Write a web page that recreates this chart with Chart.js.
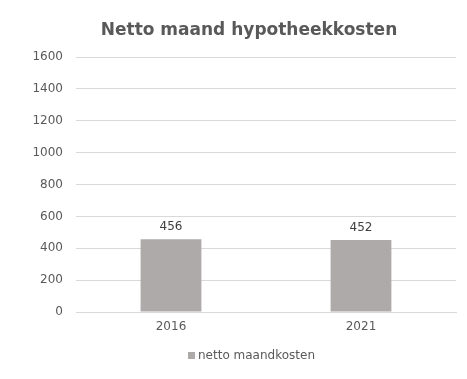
<!DOCTYPE html>
<html><head><meta charset="utf-8">
<script src="https://cdn.jsdelivr.net/npm/chart.js@4/dist/chart.umd.min.js"></script>
<style>html,body{margin:0;padding:0;background:#fff}canvas{display:block}</style>
</head><body>
<canvas id="c" width="467" height="379"></canvas>
<script>
const categories = ["2016", "2021"];
const seriesName = "netto maandkosten";
const values = [456, 452];
const titleText = "Netto maand hypotheekkosten";
const yMin = 0, yMax = 1600, yStep = 200;

const FONT = '"DejaVu Sans", Verdana, sans-serif';
const BAR_COLOR = '#AEAAAA';

const decorPlugin = {
  id: 'decor',
  afterDatasetsDraw(chart) {
    const ctx = chart.ctx;
    const meta = chart.getDatasetMeta(0);
    ctx.save();
    ctx.font = '12px ' + FONT;
    ctx.fillStyle = '#404040';
    ctx.textAlign = 'center';
    ctx.textBaseline = 'middle';
    meta.data.forEach((el, i) => {
      ctx.fillText(String(values[i]), el.x, el.y - 12);
    });
    ctx.restore();
  },
  afterDraw(chart) {
    const ctx = chart.ctx;
    ctx.save();
    ctx.font = 'bold 17px ' + FONT;
    ctx.fillStyle = '#595959';
    ctx.textAlign = 'center';
    ctx.textBaseline = 'middle';
    ctx.fillText(titleText, 249, 31);
    ctx.font = '12px ' + FONT;
    const tw = ctx.measureText(seriesName).width;
    const total = 7 + 3 + tw;
    const lx = Math.round(251 - total / 2);
    const ly = 356;
    ctx.fillStyle = BAR_COLOR;
    ctx.fillRect(lx, ly - 4, 7, 7);
    ctx.fillStyle = '#595959';
    ctx.textAlign = 'left';
    ctx.fillText(seriesName, lx + 10, ly);
    ctx.restore();
  }
};

new Chart(document.getElementById('c'), {
  type: 'bar',
  data: {
    labels: categories,
    datasets: [{
      label: seriesName,
      data: values,
      backgroundColor: BAR_COLOR,
      borderWidth: 0,
      categoryPercentage: 0.64,
      barPercentage: 0.5
    }]
  },
  options: {
    responsive: false,
    animation: false,
    layout: { autoPadding: false, padding: { left: 33, right: 11, top: 57, bottom: 44 } },
    plugins: {
      title: { display: false },
      legend: { display: false },
      tooltip: { enabled: false }
    },
    scales: {
      x: {
        grid: { display: false, drawTicks: false },
        border: { color: '#D9D9D9' },
        ticks: { color: '#595959', font: { family: FONT, size: 12 }, padding: 8, maxRotation: 0 },
        afterFit: s => { s.height = 23; }
      },
      y: {
        min: yMin, max: yMax,
        ticks: { stepSize: yStep, color: '#595959', font: { family: FONT, size: 12 }, padding: 13,
                 callback: v => String(v) },
        grid: { color: '#D9D9D9', drawTicks: false },
        border: { display: false },
        afterFit: s => { s.width = 43; }
      }
    }
  },
  plugins: [decorPlugin]
});
</script>
</body></html>
